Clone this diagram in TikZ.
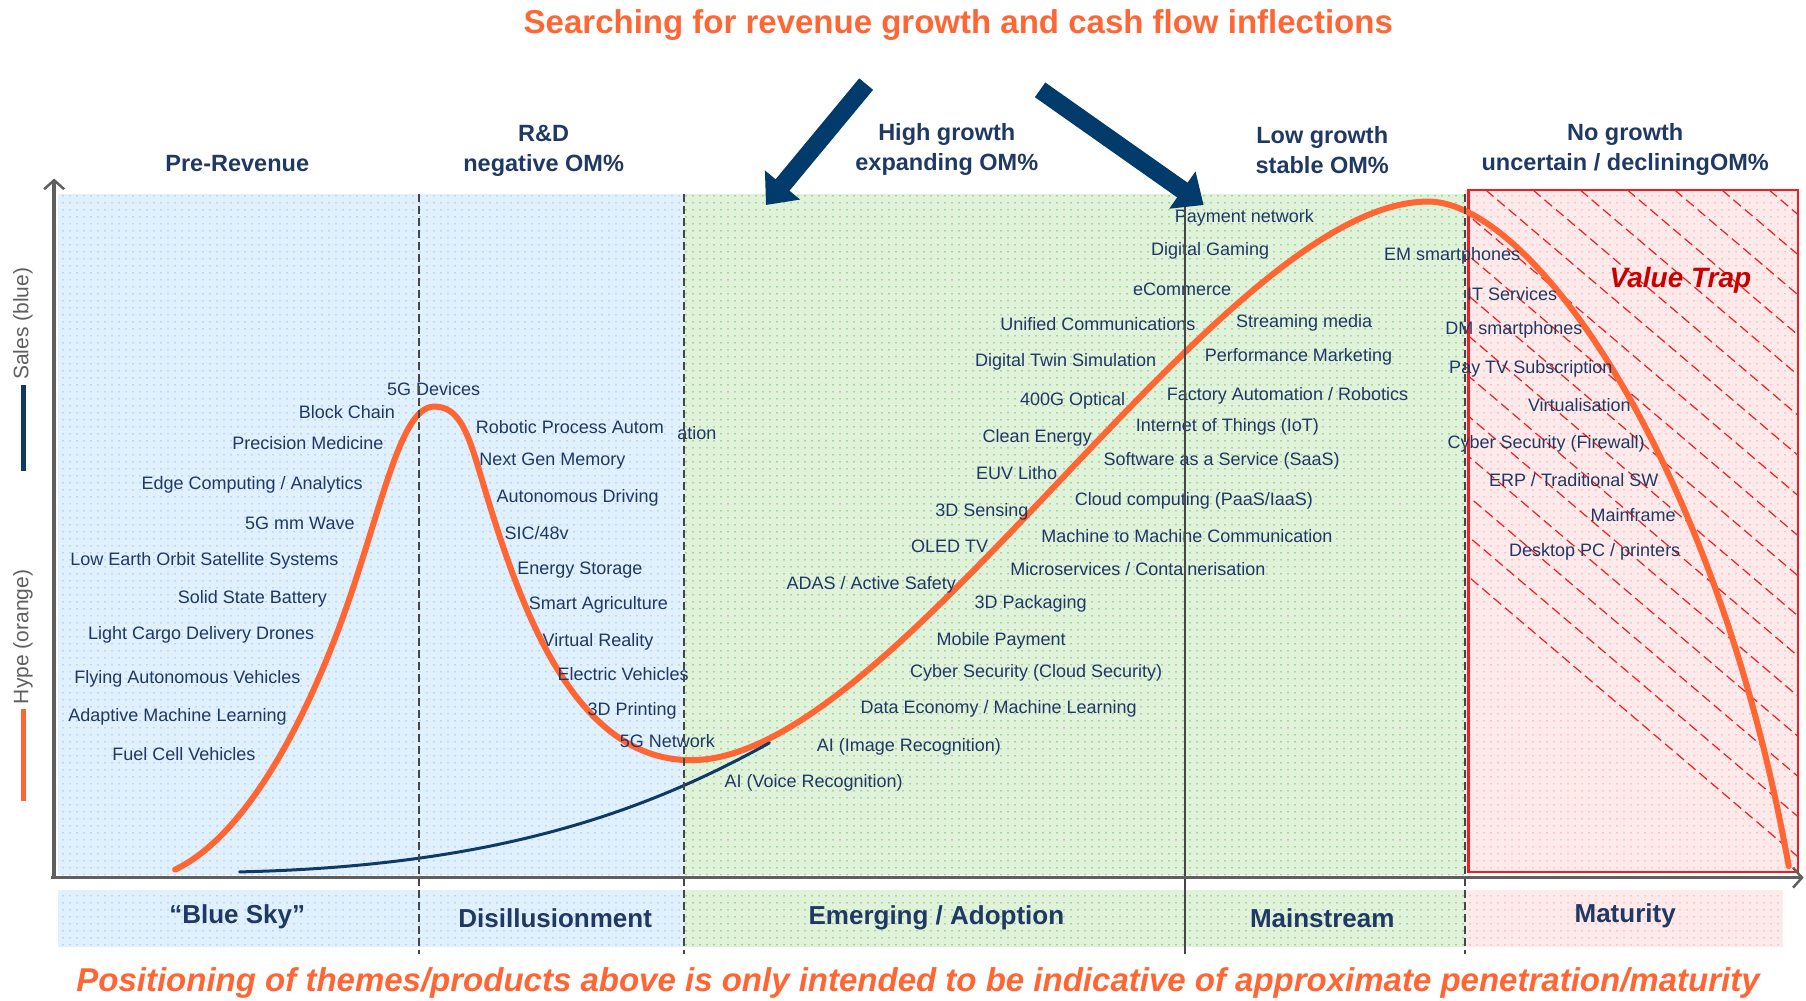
\documentclass[tikz,border=0pt]{standalone}
\usepackage{fontspec}
\setmainfont{Liberation Sans}
\usetikzlibrary{positioning,arrows.meta,patterns.meta}

\definecolor{navy}{RGB}{31,56,100}
\definecolor{hypeorange}{RGB}{255,102,51}
\definecolor{salesblue}{RGB}{16,58,102}
\definecolor{arrowblue}{RGB}{0,59,107}
\definecolor{axisgray}{RGB}{95,95,95}
\definecolor{divgray}{RGB}{70,70,70}
\definecolor{skybg}{RGB}{224,240,253}
\definecolor{skydot}{RGB}{140,195,242}
\definecolor{growbg}{RGB}{224,242,218}
\definecolor{growdot}{RGB}{100,185,90}
\definecolor{trapbg}{RGB}{254,234,234}
\definecolor{trapdot}{RGB}{250,160,160}
\definecolor{trapred}{RGB}{240,30,35}
\definecolor{valuered}{RGB}{200,0,0}

\begin{document}
\begin{tikzpicture}[x=1.1518pt, y=-1.1518pt,
        theme/.style={text=navy, font=\fontsize{18}{20}\selectfont, inner sep=0pt},
        head/.style={text=navy, font=\bfseries\fontsize{23.5}{30}\selectfont, align=center, inner sep=0pt},
        stage/.style={text=navy, font=\bfseries\fontsize{26}{30}\selectfont, inner sep=0pt},
        legendtext/.style={text=axisgray, font=\fontsize{21}{24}\selectfont, rotate=90, inner sep=0pt},
        legendbar/.style={line width=5pt},
        divider/.style={draw=divgray, line width=2pt, dash pattern=on 8pt off 4pt},
        axisline/.style={draw=axisgray, line width=3.5pt, -{Straight Barb[length=9pt,width=20pt,line width=2.5pt]}},
        bigarrow/.style={draw=arrowblue, line width=18pt, -{Triangle[length=26pt,width=44pt]}},
        skyzone/.style={fill=skybg, postaction={pattern={Dots[distance=7pt,radius=0.8pt]}, pattern color=skydot}},
        growzone/.style={fill=growbg, postaction={pattern={Dots[distance=7pt,radius=0.8pt]}, pattern color=growdot}},
        trapzone/.style={fill=trapbg, postaction={pattern={Dots[distance=7pt,radius=0.8pt]}, pattern color=trapdot}},
        trapline/.style={draw=trapred, line width=1.2pt, dash pattern=on 10pt off 5pt},
        hype/.style={draw=hypeorange, line width=6pt, line cap=round},
        sales/.style={draw=salesblue, line width=3pt, line cap=round}
    ]
        \useasboundingbox (0,0) rectangle (1568,869);

        % Zones
        \path[skyzone] (50,168) rectangle (594,760);
        \path[growzone] (594,168) rectangle (1272,760);
        \path[trapzone] (1272,165) rectangle (1561,757);
        \path[skyzone] (50,773) rectangle (594,822);
        \path[growzone] (594,773) rectangle (1272,822);
        \path[trapzone] (1272,773) rectangle (1548,822);

        % Value trap hatch
        \begin{scope}
            \clip (1275,165) rectangle (1561,757);
            \foreach \s in {880,921,...,1570}
                \draw[trapline] (\s,165) -- ++(700,595);
        \end{scope}
        \draw[draw=trapred, line width=2.5pt] (1275,165) rectangle (1561,757);

        % Curves
        \draw[hype] (152,755) .. controls (215,725) and (270,620) .. (306,512)
            .. controls (335,425) and (350,353) .. (377,353)
            .. controls (397,353) and (405,372) .. (415,405)
            .. controls (445,505) and (490,660) .. (600,660)
            .. controls (780,660) and (1060,175) .. (1240,175)
            .. controls (1330,175) and (1490,400) .. (1553,752);
        \draw[sales] (208,757) .. controls (430,752) and (560,705) .. (668,645);

        % Pre-revenue themes
        \node[theme, anchor=west] (fivegdev) at (336,338) {5G Devices};
        \node[theme, anchor=east] (block) at (343,358) {Block Chain};
        \node[theme, anchor=east] (precision) at (333,385) {Precision Medicine};
        \node[theme, anchor=east] (edge) at (315,421) {Edge Computing / Analytics};
        \node[theme, anchor=east] (mmwave) at (308,454) {5G mm Wave};
        \node[theme, anchor=east] (leo) at (294,487) {Low Earth Orbit Satellite Systems};
        \node[theme, anchor=east] (battery) at (284,520) {Solid State Battery};
        \node[theme, anchor=east] (drones) at (273,551) {Light Cargo Delivery Drones};
        \node[theme, anchor=east] (flying) at (261,589) {Flying Autonomous Vehicles};
        \node[theme, anchor=east] (adaptive) at (249,622) {Adaptive Machine Learning};
        \node[theme, anchor=east] (fuelcell) at (222,655) {Fuel Cell Vehicles};

        % Disillusionment themes
        \node[theme, anchor=west] (rpa) at (413,371) {Robotic Process Autom};
        \node[theme, anchor=west] (rpatail) at (588,376) {ation};
        \node[theme, anchor=west] (memory) at (416,400) {Next Gen Memory};
        \node[theme, anchor=west] (autodrive) at (431,432) {Autonomous Driving};
        \node[theme, anchor=west] (sic) at (438,463) {SIC/48v};
        \node[theme, anchor=west] (storage) at (449,495) {Energy Storage};
        \node[theme, anchor=west] (agri) at (459,525) {Smart Agriculture};
        \node[theme, anchor=west] (vr) at (471,557) {Virtual Reality};
        \node[theme, anchor=west] (ev) at (484,585) {Electric Vehicles};
        \node[theme, anchor=west] (printing) at (510,617) {3D Printing};
        \node[theme, anchor=west] (fivegnet) at (538,643) {5G Network};

        % Emerging / adoption themes
        \node[theme, anchor=east] (adas) at (830,508) {ADAS / Active Safety};
        \node[theme, anchor=east] (oled) at (858,474) {OLED TV};
        \node[theme, anchor=east] (sensing) at (893,444) {3D Sensing};
        \node[theme, anchor=east] (euv) at (918,411) {EUV Litho};
        \node[theme, anchor=east] (clean) at (948,380) {Clean Energy};
        \node[theme, anchor=east] (optical) at (977,348) {400G Optical};
        \node[theme, anchor=east] (twin) at (1004,314) {Digital Twin Simulation};
        \node[theme, anchor=east] (unified) at (1038,281) {Unified Communications};
        \node[theme, anchor=east] (ecom) at (1069,251) {eCommerce};
        \node[theme, anchor=east] (gaming) at (1102,218) {Digital Gaming};
        \node[theme, anchor=east] (paynet) at (1141,189) {Payment network};
        \node[theme, anchor=west] (voice) at (629,680) {AI (Voice Recognition)};
        \node[theme, anchor=west] (image) at (709,648) {AI (Image Recognition)};
        \node[theme, anchor=west] (data) at (747,615) {Data Economy / Machine Learning};
        \node[theme, anchor=west] (cloudsec) at (790,584) {Cyber Security (Cloud Security)};
        \node[theme, anchor=west] (mobpay) at (813,556) {Mobile Payment};
        \node[theme, anchor=west] (packaging) at (846,524) {3D Packaging};
        \node[theme, anchor=west] (micro) at (877,494) {Microservices / Containerisation};
        \node[theme, anchor=west] (mtom) at (904,465) {Machine to Machine Communication};
        \node[theme, anchor=west] (paas) at (933,435) {Cloud computing (PaaS/IaaS)};
        \node[theme, anchor=west] (saas) at (958,400) {Software as a Service (SaaS)};
        \node[theme, anchor=west] (iot) at (986,371) {Internet of Things (IoT)};
        \node[theme, anchor=west] (factory) at (1013,344) {Factory Automation /  Robotics};
        \node[theme, anchor=west] (perf) at (1046,310) {Performance Marketing};
        \node[theme, anchor=west] (stream) at (1073,280) {Streaming media};

        % Maturity themes
        \node[theme, anchor=east] (emphone) at (1320,222) {EM smartphones};
        \node[theme, anchor=east] (itserv) at (1352,255) {IT Services};
        \node[theme, anchor=east] (dmphone) at (1374,286) {DM smartphones};
        \node[theme, anchor=east] (paytv) at (1400,320) {Pay TV Subscription};
        \node[theme, anchor=east] (virt) at (1416,352) {Virtualisation};
        \node[theme, anchor=east] (firewall) at (1428,385) {Cyber Security (Firewall)};
        \node[theme, anchor=east] (erp) at (1440,417) {ERP / Traditional  SW};
        \node[theme, anchor=east] (mainframe) at (1455,447) {Mainframe};
        \node[theme, anchor=east] (desktop) at (1459,479) {Desktop PC / printers};
        \node[text=valuered, font=\bfseries\itshape\fontsize{28}{32}\selectfont, inner sep=0pt] (valuetrap) at (1459,243) {Value Trap};

        % Dividers
        \draw[divider] (364,168) -- (364,828);
        \draw[divider] (594,168) -- (594,828);
        \draw[draw=divgray, line width=2.5pt] (1029,168) -- (1029,828);
        \draw[divider] (1272,168) -- (1272,828);

        % Axes
        \coordinate (origin) at (47,762);
        \coordinate (ytip) at (47,155);
        \coordinate (xtip) at (1566,762);
        \draw[axisline] (origin) -- (ytip);
        \draw[axisline] ([xshift=-3pt]origin) -- (xtip);

        % Legend
        \node[legendtext] (salesleg) at (20,281) {Sales (blue)};
        \node[legendtext] (hypeleg) at (20,553) {Hype (orange)};
        \draw[legendbar, salesblue] ([yshift=-5pt]salesleg.west) -- ++(0,75);
        \draw[legendbar, hypeorange] ([yshift=-5pt]hypeleg.west) -- ++(0,80);

        % Headers
        \node[head] (prerev) at (206,142) {Pre-Revenue};
        \node[head] (rnd) at (472,131) {R\&D\\negative OM\%};
        \node[head] (highg) at (822,130) {High growth\\expanding OM\%};
        \node[head] (lowg) at (1148,130) {Low growth\\stable OM\%};
        \node[head] (nog) at (1411,130) {No growth\\uncertain / decliningOM\%};

        % Stages
        \node[stage] (bluesky) at (206,796) {“Blue Sky”};
        \node[stage] (disill) at (482,797) {Disillusionment};
        \node[stage] (emerging) at (813,797) {Emerging / Adoption};
        \node[stage] (mainstream) at (1148,797) {Mainstream};
        \node[stage] (maturity) at (1411,795) {Maturity};

        % Title, note and arrows
        \node[text=hypeorange, font=\bfseries\fontsize{33}{36}\selectfont, inner sep=0pt] (title) at (832,22)
            {Searching for revenue growth and cash flow  inflections};
        \node[text=hypeorange, font=\bfseries\itshape\fontsize{33}{36}\selectfont, inner sep=0pt] (note) at (797,853)
            {Positioning of themes/products above is only intended to be indicative of approximate  penetration/maturity};
        \coordinate (lstart) at (752,73);
        \coordinate (lend) at (665,178);
        \coordinate (rstart) at (903,78);
        \coordinate (rend) at (1045,178);
        \draw[bigarrow] (lstart) -- (lend);
        \draw[bigarrow] (rstart) -- (rend);
    \end{tikzpicture}
\end{document}
